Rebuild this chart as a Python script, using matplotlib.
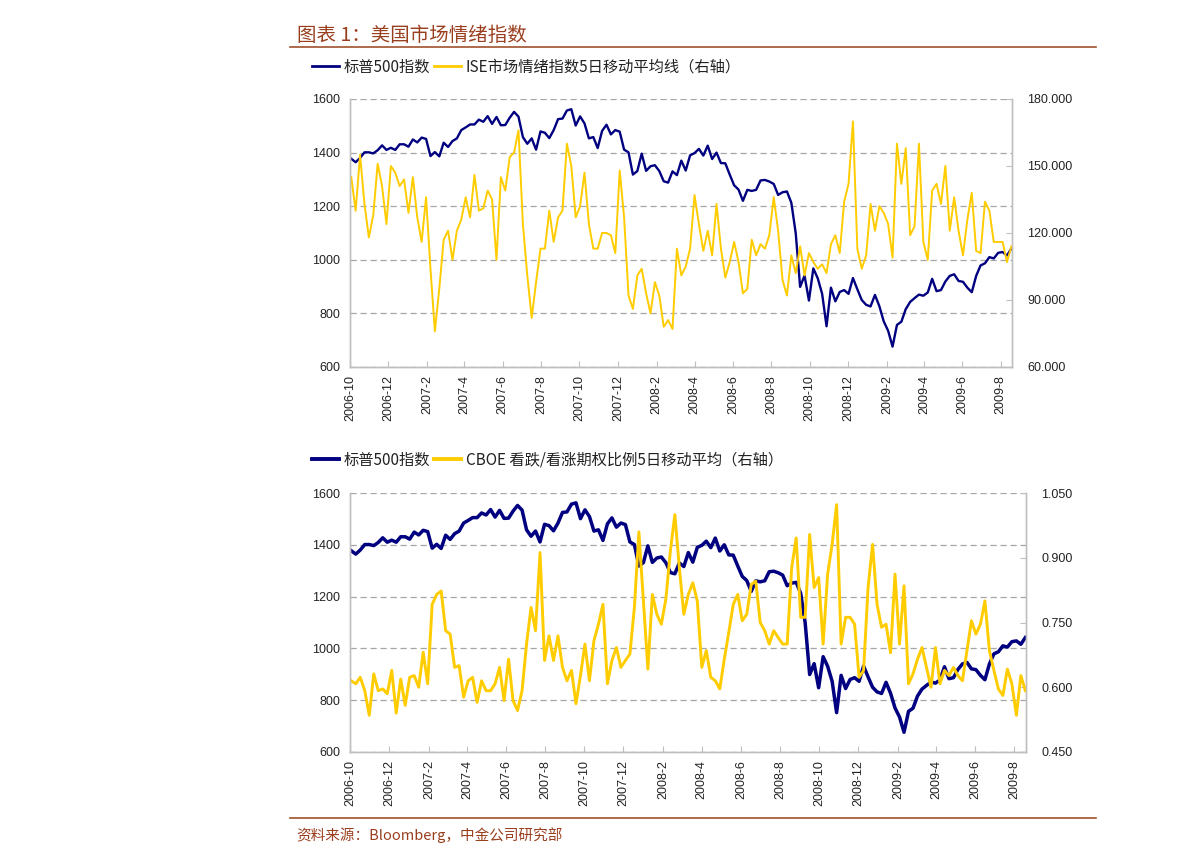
import pandas as pd
import matplotlib
matplotlib.use("Agg")
import matplotlib.pyplot as plt
from matplotlib.lines import Line2D

plt.rcParams['font.family'] = ['Noto Sans CJK SC', 'DejaVu Sans']

# weekly observations (Fridays), Oct 2006 - Sep 2009
weeks = pd.date_range('2006-10-27', periods=151, freq='W-FRI')

# S&P 500 index
spx = [1377, 1364, 1380, 1401, 1401, 1397, 1409, 1427, 1410, 1418,
       1410, 1431, 1431, 1422, 1449, 1438, 1456, 1451, 1387, 1402,
       1386, 1437, 1421, 1443, 1453, 1484, 1494, 1505, 1505, 1523,
       1515, 1536, 1507, 1533, 1502, 1503, 1530, 1552, 1534, 1458,
       1433, 1453, 1411, 1479, 1474, 1454, 1484, 1525, 1527, 1557,
       1562, 1501, 1535, 1509, 1453, 1458, 1417, 1481, 1504, 1468,
       1484, 1478,
       1411, 1401, 1318, 1331, 1396, 1332, 1349, 1353, 1331, 1293,
       1288, 1330, 1316, 1370, 1333, 1390, 1398, 1414, 1389, 1426,
       1376, 1400, 1361, 1360, 1318, 1278, 1262, 1220, 1261, 1257,
       1261, 1296, 1298, 1292, 1283, 1242, 1252, 1255, 1213, 1099,
       899, 941, 848, 968, 931, 873, 752, 896, 845, 880,
       887, 873,
       932, 890, 850, 832, 826, 869, 827, 770, 735, 676,
       757, 769, 816, 843, 857, 870, 866, 878, 929, 883,
       887, 919, 940, 946, 921, 918, 896, 879, 940, 979,
       987, 1010, 1005, 1026, 1029, 1016, 1042]

# ISE sentiment index, 5-day moving average
ise = [145, 130, 155, 133, 118, 128, 151, 141, 124, 150,
       147, 141, 144, 129, 145, 127, 116, 136, 104, 76,
       95, 117, 121, 108, 121, 126, 136, 127, 146, 130,
       131, 139, 135, 108, 145, 139, 154, 156, 166, 124,
       101, 82, 98, 113, 113, 130, 116, 127, 130, 160,
       150, 127, 132, 147, 124, 113, 113, 120, 120, 119,
       111, 148, 127, 92, 86, 101, 104, 93, 84, 98,
       92, 78, 81, 77, 113, 101, 105, 113, 137, 124,
       112, 121, 110, 133, 113, 100, 107, 116, 107, 93,
       95, 117, 110, 115, 113, 119, 136, 121, 99, 92,
       110, 102, 114, 101, 111, 107, 104, 106, 102, 115,
       119, 111, 134, 142, 170, 113, 104, 110, 133, 121,
       132, 129, 124, 109, 160, 142, 158, 119, 123, 160,
       116, 108, 139, 142, 133, 150, 121, 136, 121, 110,
       126, 138, 112, 111, 134, 130, 116, 116, 116, 107, 114]

# CBOE put/call ratio, 5-day moving average
cboe = [0.615, 0.608, 0.623, 0.592, 0.535, 0.631, 0.592, 0.596, 0.585, 0.639,
        0.540, 0.619, 0.558, 0.623, 0.627, 0.600, 0.681, 0.608, 0.792, 0.815,
        0.823, 0.731, 0.723, 0.646, 0.650, 0.577, 0.615, 0.623, 0.565, 0.615,
        0.592, 0.592, 0.608, 0.646, 0.569, 0.665, 0.569, 0.546, 0.592, 0.700,
        0.785, 0.731, 0.912, 0.662, 0.719, 0.662, 0.719, 0.646, 0.615, 0.639,
        0.562, 0.627, 0.700, 0.615, 0.708, 0.746, 0.792, 0.608, 0.662, 0.692,
        0.646, 0.662, 0.677, 0.785, 0.960, 0.800, 0.642, 0.815, 0.769, 0.746,
        0.804, 0.915, 1.000, 0.877, 0.769, 0.815, 0.842, 0.800, 0.646, 0.685,
        0.623, 0.615, 0.596, 0.665, 0.727, 0.792, 0.815, 0.754, 0.769, 0.838,
        0.846, 0.750, 0.731, 0.700, 0.731, 0.715, 0.700, 0.700, 0.877, 0.946,
        0.762, 0.762, 0.954, 0.831, 0.854, 0.700, 0.862, 0.931, 1.023, 0.700,
        0.762, 0.762, 0.746, 0.623, 0.639, 0.831, 0.931, 0.792, 0.739, 0.746,
        0.680, 0.862, 0.700, 0.835, 0.608, 0.631, 0.665, 0.692, 0.646, 0.600,
        0.692, 0.608, 0.639, 0.627, 0.646, 0.627, 0.615, 0.685, 0.754, 0.723,
        0.746, 0.800, 0.685, 0.639, 0.596, 0.581, 0.642, 0.608, 0.535, 0.627, 0.592]

tick_dates = pd.date_range('2006-10-25', '2009-08-25', freq=pd.DateOffset(months=2))
tick_labels = [f"{d.year}-{d.month}" for d in tick_dates]
x_end = pd.Timestamp('2009-09-12')

navy = '#000080'
yellow = '#FFCC00'
brown = '#A0522D'
spine_c = '#BFBFBF'
W, H = 1191, 865

fig = plt.figure(figsize=(W / 100, H / 100), dpi=100)

panels = [
    dict(rect=[350, 99, 1012, 367], right=ise, rlim=(60, 180), rticks=[60, 90, 120, 150, 180],
         lw_b=1.7, lw_y=1.4, label='ISE市场情绪指数5日移动平均线（右轴）', leg_y=67),
    dict(rect=[350, 493, 1026, 752], right=cboe, rlim=(0.45, 1.05),
         rticks=[0.45, 0.60, 0.75, 0.90, 1.05],
         lw_b=2.5, lw_y=2.1, label='CBOE 看跌/看涨期权比例5日移动平均（右轴）', leg_y=460),
]

for p in panels:
    x0, y0, x1, y1 = p['rect']
    ax = fig.add_axes([x0 / W, 1 - y1 / H, (x1 - x0) / W, (y1 - y0) / H])
    ax2 = ax.twinx()

    ax.plot(weeks, spx, color=navy, lw=p['lw_b'])
    ax2.plot(weeks, p['right'], color=yellow, lw=p['lw_y'])

    ax.set_xlim(tick_dates[0], x_end)
    ax.set_ylim(600, 1600)
    ax.set_yticks(range(600, 1601, 200))
    ax2.set_ylim(*p['rlim'])
    ax2.set_yticks(p['rticks'])
    ax2.set_yticklabels([f"{v:.3f}" for v in p['rticks']])
    ax.set_xticks(tick_dates)
    ax.set_xticklabels(tick_labels, rotation=90)

    ax.yaxis.grid(True, color='#A6A6A6', linestyle=(0, (5, 3)), linewidth=0.9)
    ax.set_axisbelow(True)

    for a in (ax, ax2):
        a.spines['top'].set_visible(False)
        for s in ('left', 'bottom', 'right'):
            a.spines[s].set_color(spine_c)
            a.spines[s].set_linewidth(1.0)
    ax.tick_params(axis='y', length=0, pad=7, labelsize=9,
                   labelfontfamily='Liberation Sans', labelcolor='#222222')
    ax.tick_params(axis='x', direction='in', length=4, color=spine_c, pad=6,
                   labelsize=9, labelfontfamily='Liberation Sans', labelcolor='#222222')
    ax2.tick_params(axis='y', direction='in', length=4, color=spine_c, pad=11,
                    labelsize=9, labelfontfamily='Liberation Sans', labelcolor='#222222')

    handles = [Line2D([], [], color=navy, lw=p['lw_b'] + 0.3),
               Line2D([], [], color=yellow, lw=p['lw_b'] + 0.3)]
    fig.legend(handles, ['标普500指数', p['label']], loc='center left',
               bbox_to_anchor=(312 / W, 1 - p['leg_y'] / H), ncol=2, frameon=False,
               fontsize=11, handlelength=1.75, handletextpad=0.3, columnspacing=0.3,
               borderpad=0, borderaxespad=0, labelcolor='#222222')

# title, rules and source note
fig.text(297 / W, 1 - 35 / H, '图表 1：美国市场情绪指数', fontsize=14, color='#9A3F1E',
         va='center', ha='left', style='italic')
fig.add_artist(Line2D([290 / W, 1096 / W], [1 - 47 / H] * 2, color=brown, lw=1.2))
fig.add_artist(Line2D([290 / W, 1096 / W], [1 - 818 / H] * 2, color=brown, lw=1.2))
fig.text(296 / W, 1 - 835 / H, '资料来源：Bloomberg，中金公司研究部', fontsize=10.5,
         color='#9A3F1E', va='center', ha='left', style='italic')

fig.savefig('out.png', dpi=100)
